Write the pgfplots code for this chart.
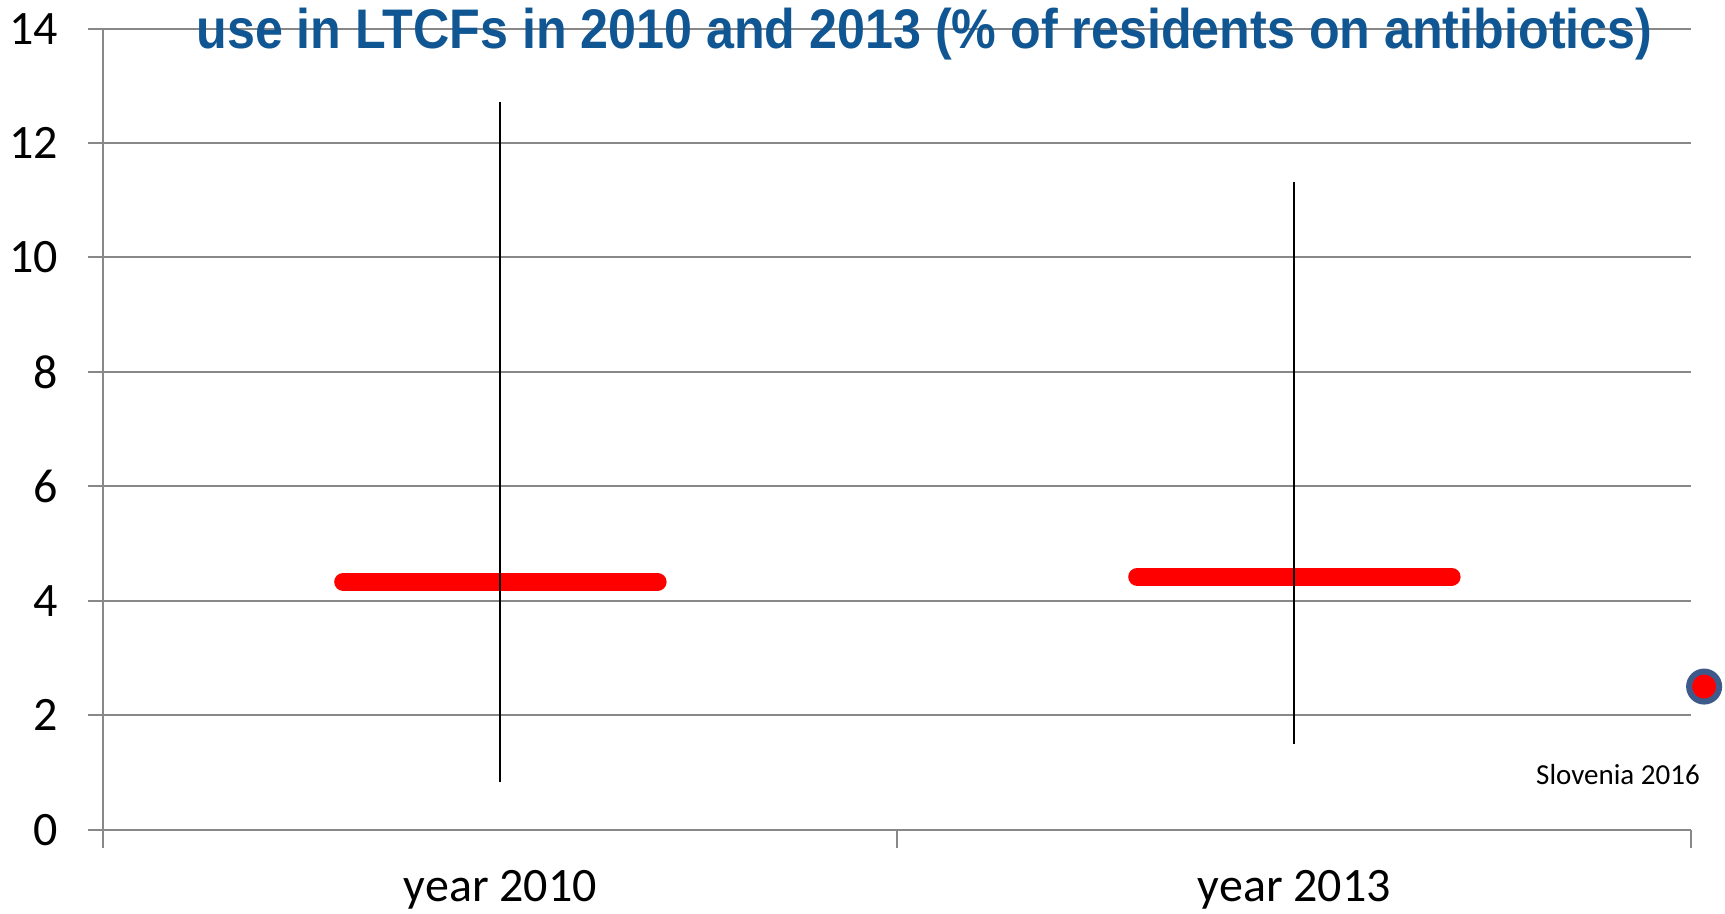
\documentclass[border=0pt]{standalone}
\usepackage{pgfplots}
\pgfplotsset{compat=1.18}
\usepackage{fontspec}
\setmainfont{Carlito}
\newfontfamily\titlefont{Liberation Sans}
\definecolor{gridgray}{RGB}{136,136,136}
\definecolor{titleblue}{RGB}{16,86,146}
\definecolor{ringblue}{RGB}{62,90,138}

\begin{document}
\begin{tikzpicture}
  \begin{axis}[
    name=ax,
    scale only axis,
    width=794pt,
    height=400.5pt,
    xmin=0, xmax=2,
    ymin=0, ymax=14,
    clip=false,
    axis lines*=left,
    axis line style={gridgray, line width=1pt},
    xtick={0.5,1.5},
    xticklabels={year 2010,year 2013},
    minor xtick={0,1,2},
    ytick={0,2,...,14},
    tick align=outside,
    major tick length=7.5pt,
    minor tick length=9pt,
    every tick/.style={gridgray, line width=1pt},
    xtick style={draw=none},
    minor x tick style={draw=gridgray},
    ymajorgrids=true,
    grid style={gridgray, line width=1pt},
    tick label style={font=\fontsize{24}{28}\selectfont},
    /pgf/number format/assume math mode=true,
    yticklabel style={anchor=east, inner sep=0pt, xshift=-15pt},
    xticklabel style={anchor=base, inner sep=0pt, yshift=-28.5pt},
  ]

    % medians
    \addplot[red, line width=9pt, line cap=round] coordinates {(0.302,4.33) (0.698,4.33)};
    \addplot[red, line width=9pt, line cap=round] coordinates {(1.302,4.42) (1.698,4.42)};

    % ranges
    \addplot[black, line width=1pt] coordinates {(0.5,0.83) (0.5,12.71)};
    \addplot[black, line width=1pt] coordinates {(1.5,1.50) (1.5,11.31)};

    % Slovenia 2016
    \addplot[only marks, mark=*, mark size=7.5pt,
      mark options={fill=red, draw=ringblue, line width=3pt}]
      coordinates {(2.016,2.5)};

    \node[anchor=base east, inner sep=0pt, font=\fontsize{14.5}{17}\selectfont]
      at (axis cs:2.011,0.795) {Slovenia 2016};

    \node[anchor=base, inner sep=0pt, text=titleblue]
      at (axis cs:1.034,13.645)
      {\scalebox{0.9}[1]{\titlefont\bfseries\fontsize{27.9}{32}\selectfont use in LTCFs in 2010 and 2013 (\% of residents on antibiotics)}};
  \end{axis}
  \pgfresetboundingbox
  \path ([shift={(-51.7pt,-41.75pt)}]ax.south west) rectangle ([shift={(16.8pt,14.3pt)}]ax.north east);
\end{tikzpicture}
\end{document}
